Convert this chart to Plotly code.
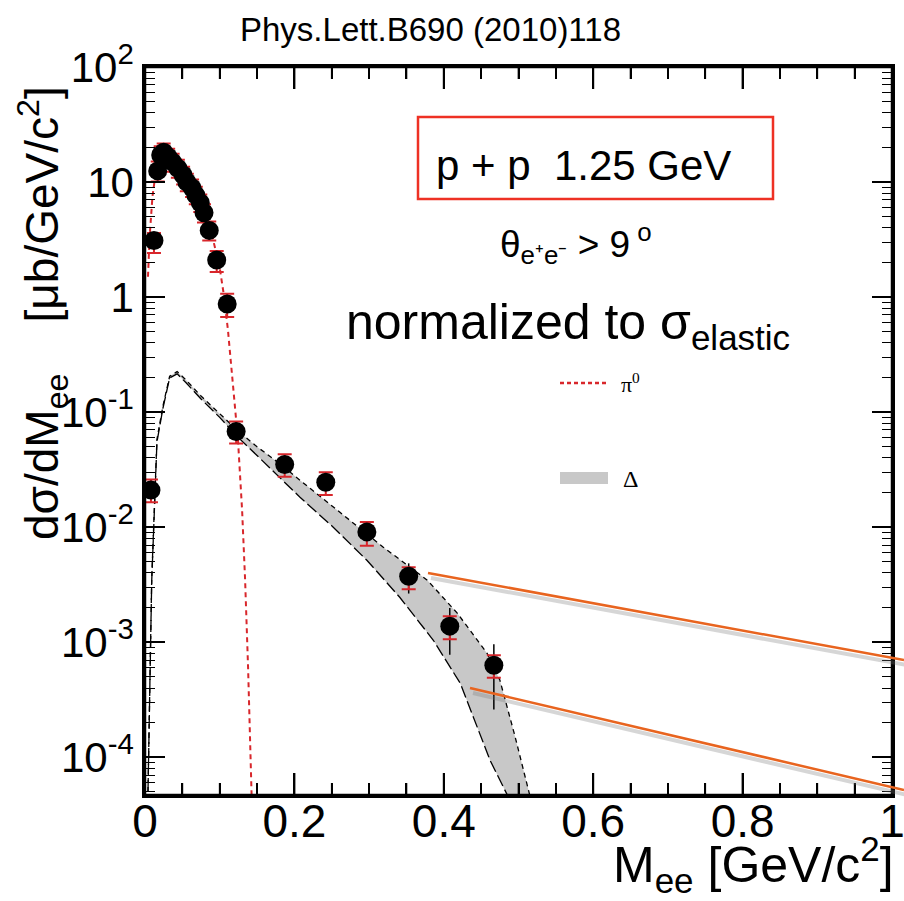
import math
import plotly.graph_objects as go

# ---------------- data ----------------
mass = [0.008, 0.012, 0.017, 0.021, 0.025, 0.031, 0.037, 0.044, 0.051, 0.056, 0.063, 0.068,
        0.074, 0.079, 0.086, 0.096, 0.110, 0.122, 0.187, 0.242, 0.297, 0.353, 0.408, 0.467]
xsec = [0.021, 3.1, 12.5, 17.2, 18.2, 16.5, 14.9, 13.2, 11.5, 10.0, 8.9, 7.7,
        6.6, 5.4, 3.8, 2.1, 0.87, 0.068, 0.035, 0.0246, 0.0091, 0.00375, 0.00138, 0.00063]
sys_hi = [0.005, 0.5, 2.6, 3.3, 3.4, 3.0, 2.7, 2.4, 2.1, 1.8, 1.6, 1.4,
          1.2, 1.0, 0.75, 0.42, 0.2, 0.015, 0.008, 0.0054, 0.002, 0.00074, 0.0003, 0.00014]
sys_lo = [0.0045, 0.68, 2.4, 3.1, 3.2, 2.9, 2.6, 2.3, 2.0, 1.7, 1.5, 1.3,
          1.1, 0.95, 0.7, 0.45, 0.2, 0.0146, 0.0075, 0.0056, 0.0022, 0.00086, 0.00032, 0.00014]
stat_hi = [0.002, 0.2, 0.6, 0.7, 0.7, 0.6, 0.6, 0.5, 0.5, 0.4, 0.4, 0.3,
           0.3, 0.3, 0.2, 0.15, 0.06, 0.006, 0.003, 0.002, 0.0012, 0.0011, 0.0006, 0.00033]
stat_lo = [0.002, 0.2, 0.6, 0.7, 0.7, 0.6, 0.6, 0.5, 0.5, 0.4, 0.4, 0.3,
           0.3, 0.3, 0.2, 0.15, 0.06, 0.006, 0.003, 0.002, 0.0012, 0.0011, 0.0006, 0.00037]

pi0_x = [0.004, 0.006, 0.010, 0.015, 0.020, 0.025, 0.030, 0.040, 0.050, 0.060, 0.070, 0.080,
         0.090, 0.100, 0.105, 0.111, 0.115, 0.120, 0.1245, 0.130, 0.134, 0.138, 0.141, 0.143, 0.145]
pi0_y = [1.5, 3.2, 7.5, 13, 17, 18.5, 17.5, 14.5, 11.8, 9.5, 7.5, 5.3,
         3.4, 1.8, 1.1, 0.52, 0.28, 0.12, 0.057, 0.014, 0.0035, 0.0006, 0.00012, 4e-5, 1e-6]

delta_up_x = [0.004, 0.009, 0.016, 0.024, 0.033, 0.043, 0.055, 0.075, 0.100, 0.125, 0.150, 0.180,
              0.2075, 0.274, 0.319, 0.378, 0.418, 0.458, 0.475, 0.495, 0.515, 0.53]
delta_up_y = [5e-5, 0.0036, 0.058, 0.113, 0.205, 0.225, 0.19, 0.138, 0.097, 0.068, 0.05, 0.0358,
              0.0256, 0.0115, 0.0067, 0.00346, 0.00179, 0.0008, 0.00047, 0.000155, 4.7e-5, 1e-6]
delta_lo_x = [0.004, 0.009, 0.016, 0.024, 0.033, 0.043, 0.055, 0.075, 0.100, 0.125, 0.150, 0.180,
              0.2075, 0.252, 0.297, 0.341, 0.386, 0.422, 0.431, 0.462, 0.485, 0.50]
delta_lo_y = [5e-5, 0.0034, 0.055, 0.108, 0.198, 0.215, 0.18, 0.13, 0.09, 0.06, 0.042, 0.0272,
              0.0182, 0.0100, 0.00516, 0.00246, 0.00104, 0.00044, 0.000313, 9.4e-5, 4.7e-5, 1e-6]

y_tickvals = [1e-4, 1e-3, 1e-2, 1e-1, 1, 10, 100]
y_ticktext = ["10<sup>-4</sup>", "10<sup>-3</sup>", "10<sup>-2</sup>", "10<sup>-1</sup>",
              "1", "10", "10<sup>2</sup>"]
x_major_step = 0.2
x_minor_step = 0.05

FONT = "Liberation Sans, Arial, sans-serif"
SERIF = "Liberation Serif, Times New Roman, serif"
RED = "#d8262b"
ORANGE = "#e8641f"

fig = go.Figure()

# Delta band
fig.add_trace(go.Scatter(x=delta_lo_x, y=delta_lo_y, mode="lines",
                         line=dict(color="black", width=1.3, dash="12px,4px"),
                         showlegend=False, hoverinfo="skip"))
fig.add_trace(go.Scatter(x=delta_up_x, y=delta_up_y, mode="lines", fill="tonexty",
                         fillcolor="rgba(200,200,200,1)",
                         line=dict(color="black", width=1.3, dash="5px,4px"),
                         showlegend=False, hoverinfo="skip"))
# pi0
fig.add_trace(go.Scatter(x=pi0_x, y=pi0_y, mode="lines",
                         line=dict(color=RED, width=2, dash="5px,4px"),
                         showlegend=False, hoverinfo="skip"))
# statistical errors
fig.add_trace(go.Scatter(x=mass, y=xsec, mode="markers", marker=dict(size=1, color="rgba(0,0,0,0)"),
                         error_y=dict(type="data", array=stat_hi, arrayminus=stat_lo, symmetric=False,
                                      color="black", thickness=1.5, width=0),
                         showlegend=False))
# data with systematic errors
fig.add_trace(go.Scatter(x=mass, y=xsec, mode="markers",
                         marker=dict(size=19, color="black", symbol="circle"),
                         error_y=dict(type="data", array=sys_hi, arrayminus=sys_lo, symmetric=False,
                                      color=RED, thickness=2, width=7),
                         showlegend=False))

axis_common = dict(showline=True, linecolor="black", linewidth=2.5, mirror="allticks",
                   ticks="inside", tickcolor="black", tickwidth=1.8, showgrid=False,
                   zeroline=False, automargin=False, ticklabeloverflow="allow")

fig.update_xaxes(range=[0, 1], tickmode="linear", tick0=0, dtick=x_major_step,
                 ticklen=22, tickfont=dict(family=FONT, size=46, color="black"),
                 ticklabelstandoff=-16,
                 minor=dict(tickmode="linear", tick0=0, dtick=x_minor_step, ticks="inside",
                            ticklen=12, tickcolor="black", tickwidth=1.6, showgrid=False),
                 **axis_common)
fig.update_yaxes(type="log", range=[math.log10(4.7e-5), 2], tickmode="array",
                 tickvals=y_tickvals, ticktext=y_ticktext, ticklen=20,
                 tickfont=dict(family=FONT, size=42, color="black"),
                 minor=dict(dtick="D1", ticks="inside", ticklen=10, tickcolor="black",
                            tickwidth=1.3, showgrid=False),
                 **axis_common)

PLOT_H = 728.0

def px(x):
    return (x - 145) / 747.0

def py(y):
    return (795 - y) / PLOT_H

shapes = []
# x-axis tick marks (bottom and top), drawn explicitly
n_minor = int(round(1.0 / x_minor_step))
per_major = int(round(x_major_step / x_minor_step))
for i in range(1, n_minor):
    xv = i * x_minor_step
    is_major = (i % per_major == 0)
    length = (22 if is_major else 12) / PLOT_H
    width = 2 if is_major else 1.7
    shapes.append(dict(type="line", xref="x", yref="paper", x0=xv, x1=xv, y0=0, y1=length,
                       line=dict(color="black", width=width), layer="above"))
    shapes.append(dict(type="line", xref="x", yref="paper", x0=xv, x1=xv, y0=1 - length, y1=1,
                       line=dict(color="black", width=width), layer="above"))
# frame
shapes.append(dict(type="rect", xref="paper", yref="paper", x0=0, x1=1, y0=0, y1=1,
                   line=dict(color="black", width=2.5), layer="above"))
# box around p+p text
shapes.append(dict(type="rect", xref="paper", yref="paper", x0=px(418), x1=px(773),
                   y0=py(199), y1=py(117), line=dict(color="#ee3124", width=2.5)))
# legend symbols
shapes.append(dict(type="line", xref="paper", yref="paper", x0=px(560), x1=px(607),
                   y0=py(383), y1=py(383), line=dict(color=RED, width=2.5, dash="4px,3px")))
shapes.append(dict(type="rect", xref="paper", yref="paper", x0=px(560), x1=px(608),
                   y0=py(484), y1=py(472), fillcolor="rgb(200,200,200)", line=dict(width=0)))
# orange pointer lines with soft shadow
for (xa, ya, xb, yb) in [(428, 573, 904, 660), (470, 688, 904, 790)]:
    shapes.append(dict(type="line", xref="paper", yref="paper", x0=px(xa + 3), y0=py(ya + 5),
                       x1=px(xb + 3), y1=py(yb + 5),
                       line=dict(color="rgba(120,120,120,0.3)", width=4)))
    shapes.append(dict(type="line", xref="paper", yref="paper", x0=px(xa), y0=py(ya),
                       x1=px(xb), y1=py(yb), line=dict(color=ORANGE, width=2.5)))

def ann(text, x, y, size, family=FONT, xanchor="center", yanchor="middle", angle=0):
    return dict(text=text, x=px(x), y=py(y), xref="paper", yref="paper", showarrow=False,
                xanchor=xanchor, yanchor=yanchor, textangle=angle,
                font=dict(family=family, size=size, color="black"))

annotations = [
    ann("Phys.Lett.B690 (2010)118", 430, 30, 33),
    ann("p + p  1.25 GeV", 583, 166, 42),
    ann("θ<sub>e⁺e⁻</sub> > 9<sup> o</sup>", 576, 243, 37),
    ann("normalized to σ<sub>elastic</sub>", 568, 326, 50),
    ann("π<sup>0</sup>", 619, 383, 22, family=SERIF, xanchor="left"),
    ann("Δ", 621, 479, 24, family=SERIF, xanchor="left"),
    ann("dσ/dM<sub>ee</sub>&nbsp;&nbsp;&nbsp;&nbsp;[μb/GeV/c<sup>2</sup>]", 42, 313, 46, angle=-90),
    ann("M<sub>ee</sub> [GeV/c<sup>2</sup>]", 896, 864, 50, xanchor="right"),
]

fig.update_layout(width=904, height=901, plot_bgcolor="white", paper_bgcolor="white",
                  margin=dict(l=145, r=12, t=67, b=106, autoexpand=False), showlegend=False,
                  shapes=shapes, annotations=annotations,
                  font=dict(family=FONT, color="black"))

fig.write_html("out.html", config={"displayModeBar": False},
               post_script="document.body.style.margin='0';document.body.style.overflow='hidden';")
